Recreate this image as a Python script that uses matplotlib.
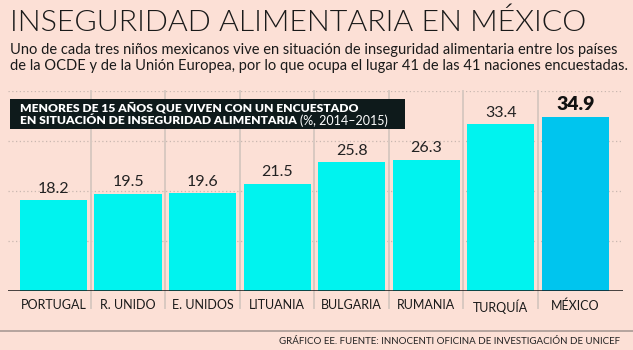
import matplotlib
matplotlib.use('Agg')
import matplotlib.pyplot as plt

countries = ['PORTUGAL', 'R. UNIDO', 'E. UNIDOS', 'LITUANIA', 'BULGARIA', 'RUMANIA', 'TURQUÍA', 'MÉXICO']
values = [18.2, 19.5, 19.6, 21.5, 25.8, 26.3, 33.4, 34.9]
grid_vals = [10, 20, 30, 40]

bg = '#fce0d6'
cyan = '#00f3ef'
mex_blue = '#00c5ee'

plt.rcParams['font.family'] = ['Lato', 'DejaVu Sans']

fig = plt.figure(figsize=(6.33, 3.5), dpi=100)
fig.patch.set_facecolor(bg)

# axes placed in pixel terms: baseline at y=291, value 40 at y=91
ax = fig.add_axes([8 / 633, (350 - 291) / 350, 615 / 633, 200 / 350])
ax.set_facecolor(bg)
ax.set_xlim(-0.61, 7.64)
ax.set_ylim(0, 40)

# dotted grid
for g in grid_vals:
    ax.axhline(g, color='#c9b8b0', linestyle=(0, (1, 2)), linewidth=0.9, zorder=0)

# separators between columns
for i in range(len(countries) - 1):
    ax.plot([i + 0.5, i + 0.5], [-3.4, 40], color='#d9c9c1', linewidth=1.4,
            clip_on=False, zorder=0.5)

colors = [cyan] * (len(values) - 1) + [mex_blue]
ax.bar(range(len(values)), values, width=0.9, color=colors, zorder=2)

for i, v in enumerate(values):
    if i == len(values) - 1:
        ax.text(i, v + 0.8, f'{v}', ha='center', va='bottom', fontsize=14,
                fontweight='heavy', color='#111111')
    else:
        ax.text(i, v + 0.8, f'{v}', ha='center', va='bottom', fontsize=11.5,
                color='#222222')

ax.axhline(0, color='#111111', linewidth=1.8, zorder=3)

ax.set_xticks(range(len(countries)))
ax.set_xticklabels(countries, fontsize=9, color='#1a1a1a')
ax.tick_params(axis='x', length=0, pad=6)
ax.set_yticks([])
for s in ax.spines.values():
    s.set_visible(False)

# title and subtitle
fig.text(10 / 633, 1 - 22 / 350, 'INSEGURIDAD ALIMENTARIA EN MÉXICO', fontsize=21.9,
         fontweight=300, color='#1a1a1a', va='center', ha='left')
fig.text(10 / 633, 1 - 50 / 350,
         'Uno de cada tres niños mexicanos vive en situación de inseguridad alimentaria entre los países',
         fontsize=10.5, color='#1a1a1a', va='center', ha='left')
fig.text(10 / 633, 1 - 66 / 350,
         'de la OCDE y de la Unión Europea, por lo que ocupa el lugar 41 de las 41 naciones encuestadas.',
         fontsize=10.5, color='#1a1a1a', va='center', ha='left')

# dark label box
box_ax = fig.add_axes([10 / 633, 1 - 129 / 350, 395 / 633, 30 / 350])
box_ax.set_facecolor('#0e1a1b')
box_ax.set_xticks([])
box_ax.set_yticks([])
for s in box_ax.spines.values():
    s.set_visible(False)
box_ax.text(0.025, 0.72, 'MENORES DE 15 AÑOS QUE VIVEN CON UN ENCUESTADO',
            transform=box_ax.transAxes, color='white', fontsize=8.7,
            fontweight='heavy', va='center', ha='left')
t = box_ax.text(0.025, 0.27, 'EN SITUACIÓN DE INSEGURIDAD ALIMENTARIA ',
                transform=box_ax.transAxes, color='white', fontsize=8.7,
                fontweight='heavy', va='center', ha='left')
box_ax.annotate('(%, 2014–2015)', xycoords=t, xy=(1, 0.5), va='center',
                ha='left', color='white', fontsize=9)

# footer
fig.add_artist(plt.Line2D([0, 1], [1 - 330.5 / 350] * 2, color='#a89a94',
                          linewidth=1.2, transform=fig.transFigure))
fig.text(620 / 633, 1 - 342 / 350,
         'GRÁFICO EE. FUENTE: INNOCENTI OFICINA DE INVESTIGACIÓN DE UNICEF',
         fontsize=7, color='#222222', ha='right', va='center')

fig.savefig('out.png', dpi=100, facecolor=bg)
